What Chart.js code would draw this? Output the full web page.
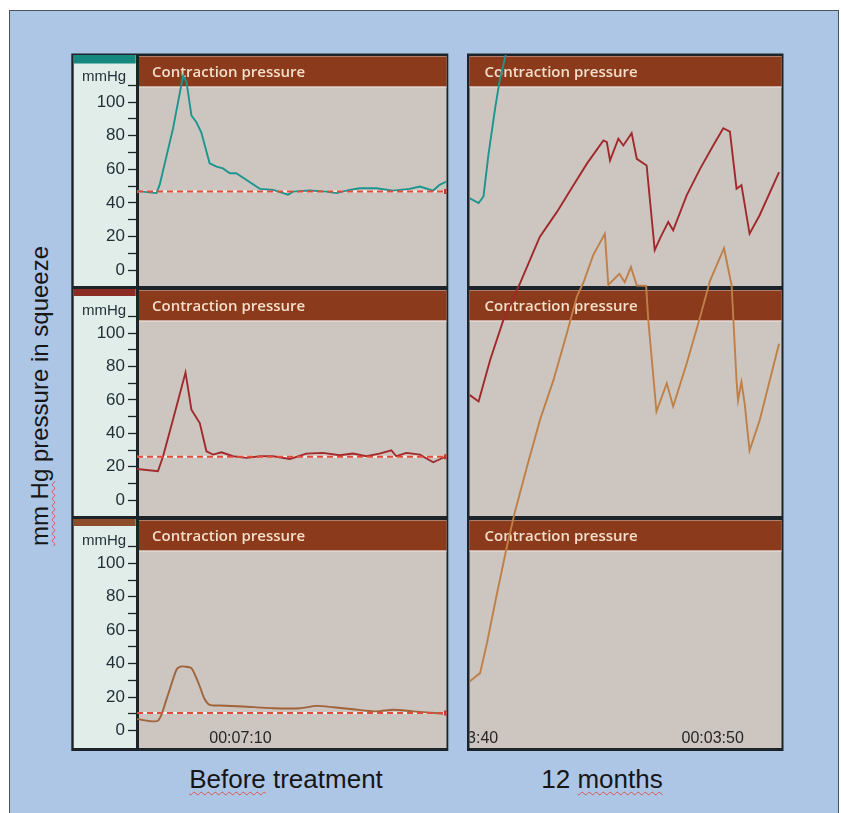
<!DOCTYPE html>
<html><head><meta charset="utf-8">
<script src="https://cdn.jsdelivr.net/npm/chart.js@4.4.1/dist/chart.umd.min.js"></script>
<style>
html,body{margin:0;padding:0;background:#fff;}
body{width:841px;height:813px;position:relative;overflow:hidden;font-family:"Liberation Sans",Arial,sans-serif;}
#bg{position:absolute;left:9px;top:10px;width:828px;height:830px;background:#aec6e6;border:1.5px solid #4d5258;}
canvas{position:absolute;}
.lbl{position:absolute;color:#161616;white-space:nowrap;}
.sq{text-decoration:underline wavy #d9534f;text-decoration-thickness:1px;text-underline-offset:3px;}
</style></head><body>
<div id="bg"></div>
<canvas id="left0" width="380" height="235" style="left:70px;top:52px"></canvas>
<canvas id="left1" width="380" height="230" style="left:70px;top:287px"></canvas>
<canvas id="left2" width="380" height="235" style="left:70px;top:517px"></canvas>
<canvas id="right" width="320" height="700" style="left:465px;top:52px"></canvas>
<div class="lbl" style="left:-160px;top:381px;width:400px;height:30px;line-height:30px;text-align:center;font-size:24px;transform:rotate(-90deg);"><span class="sq">mm Hg</span> pressure in squeeze</div>
<div class="lbl" style="left:186px;top:764px;width:200px;text-align:center;font-size:26px;"><span class="sq">Before</span> treatment</div>
<div class="lbl" style="left:502px;top:764px;width:200px;text-align:center;font-size:26px;">12 <span class="sq">months</span></div>
<script>
// ---------------- DATA (time in seconds, pressure in mmHg) ----------------
const beforeWindow = [425.8, 438.37];
const afterWindow = [220.1, 232.8];
const beforeTimeTicks = [430];
const afterTimeTicks = [220, 230];
const yTickValues = [0,10,20,30,40,50,60,70,80,90,100,110];
const yLabelValues = [0,20,40,60,80,100];
const panelTitle = 'Contraction pressure';
const unitLabel = 'mmHg';

const beforeTealTime = [425.80,426.59,426.72,427.26,427.67,427.81,428.01,428.21,428.41,428.75,429.03,429.29,429.57,429.83,430.25,430.79,431.33,431.93,432.14,432.81,433.49,433.90,434.44,434.85,435.53,436.20,436.87,437.29,437.83,438.09,438.37];
const beforeTealP = [47,45.8,50.7,84,115.5,112,92,88,82,63.5,61.5,60.5,57.6,57.6,53.6,48.3,47.7,44.8,46.7,47.3,46.7,45.8,47.7,48.7,48.7,47.3,48.3,49.7,47.3,50.7,52.7];

const beforeRedTime = [425.80,426.65,426.86,427.26,427.77,428.01,428.35,428.62,428.89,429.23,429.70,430.25,430.79,431.33,432.01,432.68,433.35,434.03,434.57,435.11,435.65,436.13,436.33,436.74,437.29,437.83,438.37];
const beforeRedP = [18.7,17.3,26.3,48.2,76.5,54.2,46.2,29.3,27.3,28.7,26.3,25.3,26.3,26.3,24.7,27.9,28.3,26.9,27.9,26.3,27.9,29.9,26.3,28.3,27.3,22.7,26.3];

const beforeBrownTime = [425.80,426.65,426.99,427.40,427.56,427.75,428.01,428.19,428.35,428.54,428.75,429.16,430.10,431.33,432.41,433.09,433.77,434.57,435.53,436.20,437.01,437.55,438.23];
const beforeBrownP = [6.8,5.8,18.3,36.3,38.2,38.2,37.3,32.0,26.3,19.0,15.3,14.9,14.3,13.3,13.3,14.7,13.9,12.7,11.4,12.4,11.4,10.8,10.0];

const beforeBaselineP = [46.7, 26, 10.4];

const afterTealTime = [220.10,220.47,220.67,220.87,221.14,221.34,221.55,221.69];
const afterTealP = [42.8,39.9,43.8,68.5,96.1,113.8,126.6,135];

const afterRedTime = [220.10,220.47,220.94,221.48,222.16,222.96,223.66,224.33,224.88,225.55,225.69,225.82,226.16,226.36,226.70,226.91,227.31,227.64,227.85,228.19,228.39,228.94,229.49,230.02,230.43,230.70,230.97,231.17,231.50,231.91,232.70];
const afterRedP = [63.1,59.1,84,108,130,157.7,172.7,188.7,201.6,215.5,214.5,203.5,216.5,212.5,219.9,204.5,200.5,149.8,156.7,166.7,161.7,182.6,198.6,212.5,222.8,220.8,186.6,188.7,159.7,170.7,196.5];

const afterOrangeTime = [220.10,220.53,220.81,221.22,221.62,221.95,222.44,222.97,223.52,224.06,224.47,224.74,225.14,225.61,225.75,226.20,226.42,226.67,226.91,227.29,227.38,227.71,228.13,228.39,228.94,229.49,229.89,230.46,230.77,230.97,231.03,231.17,231.30,231.50,231.91,232.70];
const afterOrangeP = [29.3,34.3,52.2,82.1,109.9,130.9,157.8,185.8,209.7,237.5,259.5,268,284.5,297.1,266.6,273.2,268.2,277.2,266.2,266,245,190.8,207.7,193.8,219.5,247.5,269,288.5,266.2,209.3,197.3,208.5,195.5,167.5,185.4,231.4];

// ---------------- STYLE / LAYOUT ----------------
const frameColor = '#1c242a';
const plotGray = '#ccc5c0';
const mint = '#e1ede8';
const headerBrown = '#8b3a1b';
const stripColors = ['#17887f', '#8b2b23', '#8c4d2a'];
const leftColors = ['#1c958e', '#a1292c', '#a0633a'];
const rightColors = ['#1c958e', '#a1292c', '#bf8048'];
const tickFont = {family: '"Liberation Sans", Arial, sans-serif', size: 17};

// panel canvases: abs top, height, padding, value range
const panels = [
  {top: 52, height: 235, padTop: 3, padBottom: 1, yMin: -9.5, yMax: 128},
  {top: 287, height: 230, padTop: 2, padBottom: 1, yMin: -9.5, yMax: 126.5},
  {top: 517, height: 235, padTop: 2, padBottom: 4, yMin: -10.5, yMax: 126.5}
];
panels.forEach(p => { p.caTop = p.top + p.padTop; p.caBot = p.top + p.height - p.padBottom; });

const xy = (t, v) => t.map((x, i) => ({x, y: v[i]}));
function fmtTime(s) {
  const m = Math.floor(s / 60), ss = Math.round(s % 60);
  return '00:' + String(m).padStart(2, '0') + ':' + String(ss).padStart(2, '0');
}
function drawHeader(ctx, x0, x1, y0) {
  ctx.fillStyle = headerBrown;
  ctx.fillRect(x0, y0, x1 - x0, 30);
  ctx.fillStyle = 'rgba(236,222,214,0.9)';
  ctx.fillRect(x0, y0 + 30, x1 - x0, 1.2);
  ctx.fillStyle = '#f3dfca';
  ctx.font = '600 15px "Open Sans", "Noto Sans", sans-serif';
  ctx.textAlign = 'left';
  ctx.textBaseline = 'middle';
  ctx.fillText(panelTitle, x0 + 15, y0 + 16);
}
function drawTimeTicks(chart, ticks) {
  const {ctx, chartArea: ca, scales} = chart;
  ctx.save();
  ctx.beginPath();
  ctx.rect(ca.left, ca.top, ca.right - ca.left, ca.bottom - ca.top);
  ctx.clip();
  ctx.fillStyle = '#262626';
  ctx.font = '16px "Liberation Sans", Arial, sans-serif';
  ctx.textAlign = 'center';
  ctx.textBaseline = 'alphabetic';
  ticks.forEach(t => ctx.fillText(fmtTime(t), scales.x.getPixelForValue(t), ca.bottom - 5));
  ctx.restore();
}

const leftSeries = [
  {time: beforeTealTime, p: beforeTealP},
  {time: beforeRedTime, p: beforeRedP},
  {time: beforeBrownTime, p: beforeBrownP}
];

leftSeries.forEach((s, i) => {
  const p = panels[i];
  const base = beforeBaselineP[i];
  const basePts = [{x: beforeWindow[0], y: base}, {x: beforeWindow[1], y: base}];
  new Chart(document.getElementById('left' + i), {
    type: 'line',
    data: {datasets: [
      {data: xy(s.time, s.p), borderColor: leftColors[i], borderWidth: 1.9, pointRadius: 0, tension: i === 2 ? 0.25 : 0, order: 2},
      {data: basePts, borderColor: 'rgba(255,246,242,0.85)', borderWidth: 2, pointRadius: 0, order: 3},
      {data: basePts, borderColor: '#e24a3a', borderWidth: 2, borderDash: [6, 4], pointRadius: [0, 3.5], pointStyle: 'rect', pointBackgroundColor: '#c8362a', pointBorderWidth: 0, order: 1}
    ]},
    options: {
      responsive: false, animation: false, events: [],
      layout: {autoPadding: false, padding: {left: 0, right: 3.5, top: p.padTop, bottom: p.padBottom}},
      plugins: {legend: {display: false}, tooltip: {enabled: false}},
      scales: {
        x: {type: 'linear', display: false, min: beforeWindow[0], max: beforeWindow[1]},
        y: {
          type: 'linear', position: 'left', min: p.yMin, max: p.yMax,
          afterBuildTicks: sc => { sc.ticks = yTickValues.map(v => ({value: v})); },
          afterFit: sc => { sc.width = 67; sc.paddingTop = 0; sc.paddingBottom = 0; },
          ticks: {autoSkip: false, padding: 3, color: '#1f2f35', font: tickFont,
                  callback: v => yLabelValues.includes(v) ? String(v) : ''},
          grid: {drawOnChartArea: false, drawTicks: true, tickLength: 9, tickColor: frameColor, tickWidth: 1.3},
          border: {display: true, color: frameColor, width: 3}
        }
      }
    },
    plugins: [{
      id: 'leftPanel' + i,
      beforeDraw(chart) {
        const {ctx, chartArea: ca, height} = chart;
        ctx.save();
        const frameTop = i === 0 ? 1.5 : 0;
        const frameBot = i === 2 ? ca.bottom + 3 : height;
        ctx.fillStyle = frameColor;
        ctx.fillRect(1.3, frameTop, 377, frameBot - frameTop);
        ctx.fillStyle = mint;
        ctx.fillRect(3.7, ca.top, ca.left - 3.7, ca.bottom - ca.top);
        ctx.fillStyle = stripColors[i];
        ctx.fillRect(3.7, ca.top, ca.left - 5, i === 0 ? 8.5 : 7);
        ctx.fillStyle = plotGray;
        ctx.fillRect(ca.left, ca.top + 1, ca.right - ca.left, ca.bottom - ca.top - 1);
        drawHeader(ctx, ca.left, ca.right, ca.top + 1.5);
        ctx.fillStyle = '#1e2e34';
        ctx.font = '15px "Liberation Sans", Arial, sans-serif';
        ctx.textAlign = 'center';
        ctx.textBaseline = 'middle';
        ctx.fillText(unitLabel, 34, ca.top + 22);
        ctx.restore();
      },
      afterDatasetsDraw(chart) {
        if (i === 2) drawTimeTicks(chart, beforeTimeTicks);
      }
    }]
  });
});

// right column: one canvas, three overlapping y scales matching the panels
const rightTop = 52, rightCaTop = 55, rightCaBot = 748;
function rightAxis(p) {
  const k = (p.caBot - p.caTop) / (p.yMax - p.yMin);
  return {type: 'linear', display: false,
          max: p.yMax + (p.caTop - rightCaTop) / k,
          min: p.yMin - (rightCaBot - p.caBot) / k};
}
const rightSeries = [
  {time: afterTealTime, p: afterTealP, axis: 'yA'},
  {time: afterRedTime, p: afterRedP, axis: 'yB'},
  {time: afterOrangeTime, p: afterOrangeP, axis: 'yC'}
];
new Chart(document.getElementById('right'), {
  type: 'line',
  data: {datasets: rightSeries.map((s, i) => ({
    data: xy(s.time, s.p), yAxisID: s.axis, borderColor: rightColors[i], borderWidth: 1.9, pointRadius: 0, tension: 0
  }))},
  options: {
    responsive: false, animation: false, events: [],
    layout: {autoPadding: false, padding: {left: 4.5, right: 3.5, top: rightCaTop - rightTop, bottom: 700 - (rightCaBot - rightTop)}},
    plugins: {legend: {display: false}, tooltip: {enabled: false}},
    scales: {
      x: {type: 'linear', display: false, min: afterWindow[0], max: afterWindow[1]},
      yA: rightAxis(panels[0]),
      yB: rightAxis(panels[1]),
      yC: rightAxis(panels[2])
    }
  },
  plugins: [{
    id: 'rightPanels',
    beforeDraw(chart) {
      const {ctx, chartArea: ca} = chart;
      ctx.save();
      ctx.fillStyle = frameColor;
      ctx.fillRect(2, 1.5, 316.5, (751 - rightTop) - 1.5);
      panels.forEach(p => {
        const t = p.caTop - rightTop, b = p.caBot - rightTop;
        ctx.fillStyle = plotGray;
        ctx.fillRect(ca.left, t + 1, ca.right - ca.left, b - t - 1);
        drawHeader(ctx, ca.left, ca.right, t + 1.5);
      });
      ctx.restore();
    },
    afterDatasetsDraw(chart) { drawTimeTicks(chart, afterTimeTicks); }
  }]
});
</script>
</body></html>
